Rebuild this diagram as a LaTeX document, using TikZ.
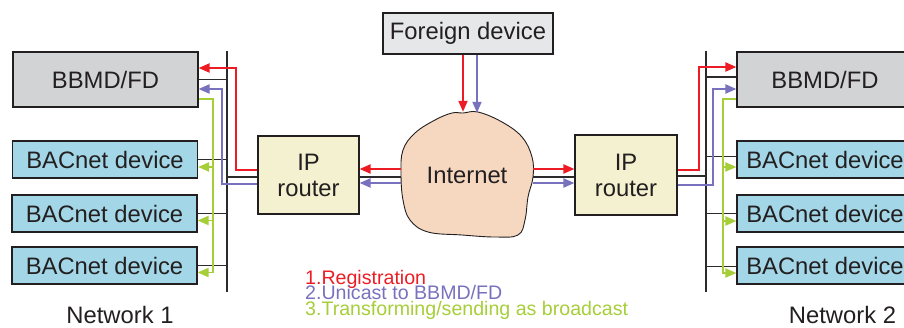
\documentclass[tikz,border=0pt]{standalone}
\usepackage{fontspec}
\setmainfont{Liberation Sans}
\usetikzlibrary{arrows.meta}
\definecolor{cred}{RGB}{237,28,36}
\definecolor{cblue}{RGB}{120,113,190}
\definecolor{cgreen}{RGB}{166,206,57}
\definecolor{cdev}{RGB}{163,214,230}
\definecolor{cbbmd}{RGB}{209,211,212}
\definecolor{cfor}{RGB}{230,231,232}
\definecolor{crouter}{RGB}{243,241,207}
\definecolor{cinet}{RGB}{246,216,192}
\definecolor{cborder}{RGB}{35,31,32}
\definecolor{ctext}{RGB}{35,31,32}
\definecolor{cwire}{RGB}{45,42,43}
\newcommand{\mainfs}{\fontsize{23.8}{26}\selectfont}
\newcommand{\legfs}{\fontsize{19.6}{15}\selectfont}
\begin{document}
\begin{tikzpicture}[x=1pt,y=-1pt,
  box/.style={draw=cborder, line width=1.1pt, inner sep=0pt, font=\mainfs, text=ctext},
  bbmd/.style={box, fill=cbbmd, minimum width=#1, minimum height=55pt},
  dev/.style={box, fill=cdev, minimum width=#1, minimum height=37pt},
  router/.style={box, fill=crouter, minimum width=101pt, minimum height=78pt, align=center},
  wire/.style={line width=1.2pt, draw=cwire},
  tip/.style={-{Triangle[length=11pt,width=9pt]}},
  rline/.style={line width=1.9pt, draw=cred},
  bline/.style={line width=1.9pt, draw=cblue},
  gline/.style={line width=1.9pt, draw=cgreen},
  rarr/.style={rline, tip, cred},
  barr/.style={bline, tip, cblue},
  garr/.style={gline, tip, cgreen},
  lbl/.style={font=\mainfs, text=ctext}
]
\useasboundingbox (0,0) rectangle (904,327);
\clip (0,0) rectangle (904,327);

% Internet blob
\fill[cinet, draw=cborder, line width=0.9pt] plot[smooth cycle, tension=0.65] coordinates {
 (463,113) (478,112) (502,122) (522,137) (532,157) (533,177) (528,197) (525,220)
 (518,235) (495,237) (462,235) (428,232) (410,220) (403,200) (401,173) (403,150)
 (415,133) (435,120) (452,113)};
\node[minimum width=132pt, minimum height=126pt, inner sep=0pt, lbl] (inet) at (467,175) {Internet};

% Nodes
\node[box, fill=cfor, minimum width=170pt, minimum height=41pt] (foreign) at (468,33.5) {Foreign device};
\node[bbmd=185pt] (bbmdL) at (105.5,79.5) {BBMD/FD};
\node[dev=185pt] (devL1) at (105,159.5) {BACnet device};
\node[dev=185pt] (devL2) at (104.5,213.5) {BACnet device};
\node[dev=185pt] (devL3) at (104.5,265.5) {BACnet device};
\node[bbmd=176pt] (bbmdR) at (825,79.5) {BBMD/FD};
\node[dev=176pt] (devR1) at (825,159.5) {BACnet device};
\node[dev=176pt] (devR2) at (825,213.5) {BACnet device};
\node[dev=176pt] (devR3) at (825,265.5) {BACnet device};
\node[router] (routerL) at (308.5,175) {IP\\router};
\node[router, minimum width=102pt, minimum height=80pt] (routerR) at (626,175) {IP\\router};

% Buses
\coordinate (busLtop) at (227,51);
\coordinate (busLbot) at (227,292);
\coordinate (busRtop) at (706,51);
\coordinate (busRbot) at (706,292);
\draw[wire] (busLtop) -- (busLbot);
\draw[wire] (busRtop) -- (busRbot);

% Left black connectors
\draw[wire] (bbmdL.east) -- (bbmdL.east -| busLtop);
\draw[wire] (devL1.east) -- (devL1.east -| busLtop);
\draw[wire] (devL2.east) -- (devL2.east -| busLtop);
\draw[wire] (devL3.east) -- (devL3.east -| busLtop);
\draw[wire] ([yshift=-2pt]routerL.west) -- ([yshift=-2pt]routerL.west -| busLtop);

% Right black connectors
\draw[wire] ([yshift=2.5pt]bbmdR.west) -- ([yshift=2.5pt]bbmdR.west -| busRtop);
\draw[wire] ([yshift=3pt]devR1.west) -- ([yshift=3pt]devR1.west -| busRtop);
\draw[wire] (devR2.west) -- (devR2.west -| busRtop);
\draw[wire] ([yshift=-1pt]devR3.west) -- ([yshift=-1pt]devR3.west -| busRtop);
\draw[wire] ([yshift=-1pt]routerR.east) -- ([yshift=-1pt]routerR.east -| busRtop);

% Router <-> Internet
\draw[rarr] ([yshift=6pt]inet.west) -- ([yshift=6pt]routerL.east);
\draw[wire] ([yshift=-2pt]inet.west) -- ([yshift=-2pt]routerL.east);
\draw[barr] ([yshift=-8pt]inet.west) -- ([yshift=-8pt]routerL.east);
\draw[rarr] ([yshift=6pt]inet.east) -- ([yshift=6pt]routerR.west);
\draw[wire] ([yshift=-2pt]inet.east) -- ([yshift=-2pt]routerR.west);
\draw[barr] ([yshift=-8pt]inet.east) -- ([yshift=-8pt]routerR.west);

% Foreign -> Internet
\draw[rarr] ([xshift=-5pt]foreign.south) -- ([xshift=-4pt]inet.north);
\draw[barr] ([xshift=9pt]foreign.south) -- ([xshift=10pt,yshift=-1pt]inet.north);

% Left colored paths
\coordinate (lR) at (236,68);
\coordinate (lB) at (222,89);
\coordinate (lG) at (213,99);
\draw[rarr] ([yshift=5pt]routerL.west) -| (lR) -- (bbmdL.east |- lR);
\draw[barr] ([yshift=-9pt]routerL.west) -| (lB) -- (bbmdL.east |- lB);
\draw[garr] (bbmdL.east |- lG) -- (lG) -- ([yshift=-7pt]devL3.east -| lG) -- ([yshift=-7pt]devL3.east);
\draw[garr] ([yshift=-7.5pt]devL1.east -| lG) -- ([yshift=-7.5pt]devL1.east);
\draw[garr] ([yshift=-7pt]devL2.east -| lG) -- ([yshift=-7pt]devL2.east);

% Right colored paths
\coordinate (rR) at (699,67);
\coordinate (rB) at (713,89);
\coordinate (rG) at (723,99);
\draw[rarr] ([yshift=5pt]routerR.east) -| (rR) -- (bbmdR.west |- rR);
\draw[barr] ([yshift=-10pt]routerR.east) -| (rB) -- (bbmdR.west |- rB);
\draw[garr] (bbmdR.west |- rG) -- (rG) -- ([yshift=-7.5pt]devR3.west -| rG) -- ([yshift=-7.5pt]devR3.west);
\draw[garr] ([yshift=-7.5pt]devR1.west -| rG) -- ([yshift=-7.5pt]devR1.west);
\draw[garr] ([yshift=-7.5pt]devR2.west -| rG) -- ([yshift=-7.5pt]devR2.west);

% Labels
\node[lbl] (net1) at (120,315) {Network 1};
\node[lbl] (net2) at (842.5,315) {Network 2};
\node[anchor=base west, inner sep=0pt, font=\legfs, text=cred] (leg1) at (305,284) {1.Registration};
\node[anchor=base west, inner sep=0pt, font=\legfs, text=cblue] (leg2) at (305,299.5) {2.Unicast to BBMD/FD};
\node[anchor=base west, inner sep=0pt, font=\legfs, text=cgreen] (leg3) at (305,315) {3.Transforming/sending as broadcast};
\end{tikzpicture}
\end{document}
